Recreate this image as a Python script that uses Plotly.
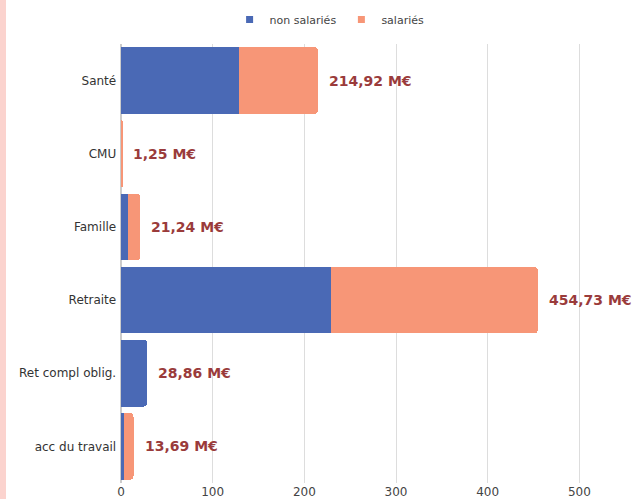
import plotly.graph_objects as go

categories = ["Santé", "CMU", "Famille", "Retraite", "Ret compl oblig.", "acc du travail"]
non_salaries = [129.0, 0.0, 7.5, 229.0, 28.86, 3.0]
salaries = [85.92, 1.25, 13.74, 225.73, 0.0, 10.69]
totals = [214.92, 1.25, 21.24, 454.73, 28.86, 13.69]
total_labels = ["214,92 M€", "1,25 M€", "21,24 M€", "454,73 M€", "28,86 M€", "13,69 M€"]
series_names = ["non salariés", "salariés"]

blue = "#4a69b5"
salmon = "#f79677"
label_color = "#9a3b3b"
font_family = "'DejaVu Sans', sans-serif"

L, R, T, B = 121, 24, 44, 16
PW = 640 - L - R
PH = 499 - T - B

fig = go.Figure()
for vals, name, col in zip([non_salaries, salaries], series_names, [blue, salmon]):
    fig.add_trace(go.Bar(y=categories, x=vals, orientation="h", name=name, showlegend=False,
                         marker=dict(color=col, line=dict(width=0))))
# small square legend markers
for name, col in zip(series_names, [blue, salmon]):
    fig.add_trace(go.Scatter(x=[None], y=[None], mode="markers", name=name,
                             marker=dict(symbol="square", size=7, color=col)))

for cat, tot, lab in zip(categories, totals, total_labels):
    fig.add_annotation(x=tot, y=cat, text="<b>" + lab + "</b>", showarrow=False, xanchor="left",
                       xshift=9, font=dict(color=label_color, size=14, family=font_family))

fig.update_layout(
    width=640, height=499,
    barmode="stack", bargap=0.09, barcornerradius=4,
    plot_bgcolor="white", paper_bgcolor="white",
    margin=dict(l=L, r=R, t=T, b=B, autoexpand=False),
    font=dict(family=font_family, color="#444444", size=12),
    legend=dict(orientation="h", xref="container", x=0.515, xanchor="center",
                yref="container", y=0.99, yanchor="top",
                font=dict(size=11, color="#444444"), traceorder="normal", itemwidth=30),
    xaxis=dict(range=[0, 540], tickvals=[0, 100, 200, 300, 400, 500], showgrid=True,
               gridcolor="#dddddd", gridwidth=1, zeroline=True, zerolinecolor="#cccccc",
               ticks="", tickfont=dict(size=12, color="#444444"), fixedrange=True, automargin=False),
    yaxis=dict(autorange="reversed", showgrid=False, ticks="", ticksuffix=" ",
               tickfont=dict(size=12, color="#333333"), fixedrange=True, automargin=False),
    showlegend=True,
)

# pink stripe on the left edge
fig.add_shape(type="rect", xref="paper", yref="paper", x0=-L / PW, x1=-(L - 6) / PW,
              y0=-B / PH - 0.01, y1=1 + T / PH + 0.01, fillcolor="#fbd3ce", line=dict(width=0), layer="below")

fig.write_html("out.html", config={"displayModeBar": False},
               post_script="document.body.style.margin='0';document.body.style.overflow='hidden';")
